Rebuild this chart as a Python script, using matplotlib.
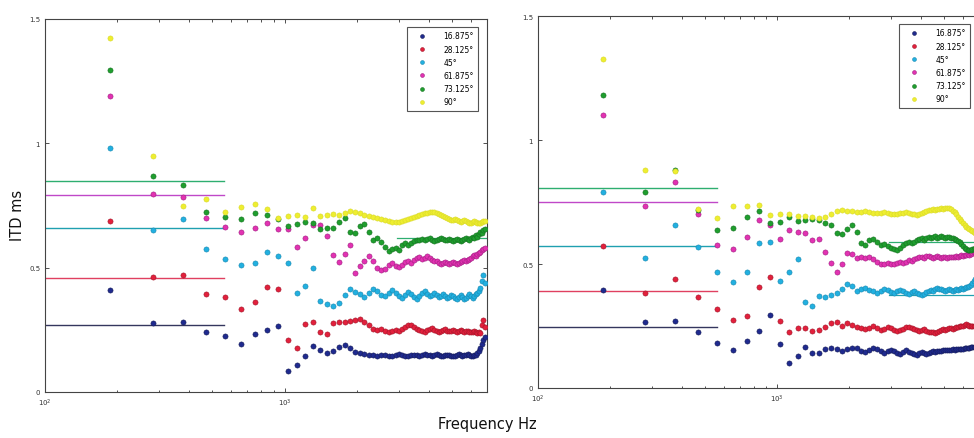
import matplotlib
matplotlib.use("Agg")
import matplotlib.pyplot as plt
import numpy as np
from matplotlib.ticker import LogLocator, NullFormatter, FixedLocator

# FFT bins 2..73 of 93.75 Hz
BIN_HZ = 93.75
bins = np.arange(2, 74)
freqs = BIN_HZ * bins

labels = ["16.875°", "28.125°", "45°", "61.875°", "73.125°", "90°"]
colors = ["#1f2a8f", "#e2203c", "#22b0e0", "#e232b2", "#1f9e2e", "#eeee30"]
edge_colors = ["#141a55", "#a01428", "#1888b0", "#a01e80", "#147020", "#d8d828"]
line_colors = ["#34365e", "#e04060", "#20a0b0", "#c048c8", "#2eae70"]

# left panel, ITD in ms per bin
L_az16 = [0.411, 0.276, 0.280, 0.240, 0.226, 0.193, 0.233, 0.250, 0.267, 0.085,
          0.110, 0.143, 0.183, 0.170, 0.155, 0.165, 0.180, 0.187, 0.175, 0.162,
          0.156, 0.152, 0.150, 0.148, 0.145, 0.148, 0.150, 0.146, 0.144, 0.148,
          0.152, 0.150, 0.146, 0.143, 0.147, 0.150, 0.148, 0.145, 0.149, 0.152,
          0.150, 0.147, 0.145, 0.148, 0.151, 0.149, 0.146, 0.144, 0.147, 0.150,
          0.148, 0.145, 0.143, 0.146, 0.149, 0.151, 0.148, 0.145, 0.147, 0.150,
          0.152, 0.149, 0.146, 0.144, 0.147, 0.150, 0.155, 0.165, 0.178, 0.195,
          0.210, 0.220]
L_az28 = [0.689, 0.464, 0.472, 0.393, 0.382, 0.334, 0.363, 0.424, 0.416, 0.210,
          0.178, 0.275, 0.280, 0.242, 0.233, 0.277, 0.280, 0.283, 0.286, 0.290,
          0.292, 0.283, 0.268, 0.255, 0.248, 0.252, 0.245, 0.240, 0.244, 0.250,
          0.247, 0.255, 0.262, 0.268, 0.270, 0.262, 0.255, 0.250, 0.246, 0.243,
          0.248, 0.252, 0.256, 0.250, 0.245, 0.242, 0.246, 0.249, 0.252, 0.247,
          0.244, 0.246, 0.249, 0.245, 0.242, 0.245, 0.248, 0.244, 0.241, 0.244,
          0.247, 0.243, 0.240, 0.243, 0.246, 0.242, 0.239, 0.242, 0.236, 0.270,
          0.290, 0.260]
L_az45 = [0.981, 0.653, 0.696, 0.575, 0.535, 0.512, 0.519, 0.562, 0.548, 0.517,
          0.398, 0.428, 0.497, 0.367, 0.354, 0.345, 0.358, 0.392, 0.414, 0.404,
          0.394, 0.383, 0.400, 0.416, 0.405, 0.392, 0.385, 0.398, 0.410, 0.400,
          0.388, 0.380, 0.390, 0.402, 0.395, 0.382, 0.376, 0.388, 0.400, 0.405,
          0.395, 0.385, 0.392, 0.398, 0.390, 0.382, 0.388, 0.394, 0.386, 0.378,
          0.384, 0.392, 0.386, 0.378, 0.374, 0.382, 0.390, 0.384, 0.376, 0.380,
          0.388, 0.394, 0.388, 0.380, 0.386, 0.395, 0.400, 0.405, 0.420, 0.445,
          0.470, 0.440]
L_az61 = [1.189, 0.796, 0.785, 0.698, 0.662, 0.642, 0.658, 0.680, 0.655, 0.655,
          0.582, 0.618, 0.673, 0.673, 0.629, 0.551, 0.521, 0.555, 0.592, 0.478,
          0.508, 0.528, 0.548, 0.525, 0.500, 0.492, 0.495, 0.510, 0.518, 0.508,
          0.502, 0.512, 0.522, 0.528, 0.520, 0.530, 0.538, 0.542, 0.535, 0.540,
          0.545, 0.538, 0.532, 0.528, 0.525, 0.520, 0.516, 0.520, 0.524, 0.520,
          0.515, 0.518, 0.522, 0.518, 0.514, 0.518, 0.522, 0.526, 0.530, 0.528,
          0.532, 0.536, 0.540, 0.545, 0.550, 0.548, 0.555, 0.560, 0.565, 0.570,
          0.575, 0.580]
L_az73 = [1.296, 0.867, 0.834, 0.722, 0.705, 0.695, 0.718, 0.710, 0.696, 0.669,
          0.675, 0.682, 0.680, 0.656, 0.658, 0.660, 0.682, 0.698, 0.645, 0.640,
          0.668, 0.675, 0.642, 0.612, 0.618, 0.605, 0.582, 0.568, 0.575, 0.578,
          0.570, 0.590, 0.598, 0.592, 0.600, 0.606, 0.610, 0.612, 0.615, 0.610,
          0.614, 0.618, 0.612, 0.608, 0.612, 0.616, 0.620, 0.615, 0.610, 0.612,
          0.616, 0.612, 0.608, 0.612, 0.616, 0.612, 0.606, 0.610, 0.615, 0.620,
          0.616, 0.612, 0.618, 0.625, 0.620, 0.630, 0.625, 0.636, 0.645, 0.640,
          0.650, 0.655]
L_az90 = [1.423, 0.950, 0.749, 0.776, 0.722, 0.743, 0.756, 0.736, 0.700, 0.709,
          0.712, 0.705, 0.739, 0.706, 0.710, 0.715, 0.712, 0.720, 0.726, 0.722,
          0.718, 0.712, 0.708, 0.702, 0.698, 0.694, 0.690, 0.686, 0.684, 0.682,
          0.684, 0.686, 0.690, 0.694, 0.698, 0.702, 0.706, 0.710, 0.714, 0.718,
          0.720, 0.722, 0.724, 0.722, 0.718, 0.714, 0.710, 0.706, 0.702, 0.698,
          0.695, 0.692, 0.690, 0.694, 0.690, 0.686, 0.684, 0.688, 0.692, 0.688,
          0.684, 0.680, 0.678, 0.682, 0.686, 0.684, 0.680, 0.678, 0.680, 0.684,
          0.686, 0.688]

# right panel
R_az16 = [0.395, 0.265, 0.270, 0.225, 0.181, 0.153, 0.188, 0.231, 0.295, 0.177,
          0.100, 0.128, 0.167, 0.141, 0.142, 0.157, 0.160, 0.159, 0.151, 0.156,
          0.163, 0.160, 0.150, 0.146, 0.152, 0.162, 0.156, 0.148, 0.143, 0.150,
          0.155, 0.148, 0.140, 0.138, 0.145, 0.152, 0.147, 0.140, 0.136, 0.135,
          0.140, 0.146, 0.142, 0.137, 0.140, 0.146, 0.150, 0.147, 0.148, 0.151,
          0.149, 0.152, 0.154, 0.152, 0.155, 0.153, 0.156, 0.155, 0.157, 0.156,
          0.158, 0.157, 0.159, 0.160, 0.161, 0.162, 0.163, 0.164, 0.165, 0.166,
          0.167, 0.168]
R_az28 = [0.574, 0.383, 0.440, 0.366, 0.319, 0.274, 0.289, 0.408, 0.449, 0.271,
          0.227, 0.240, 0.240, 0.231, 0.235, 0.244, 0.262, 0.266, 0.251, 0.262,
          0.254, 0.246, 0.240, 0.236, 0.242, 0.248, 0.240, 0.234, 0.238, 0.244,
          0.240, 0.234, 0.230, 0.232, 0.238, 0.244, 0.246, 0.240, 0.236, 0.232,
          0.230, 0.234, 0.236, 0.230, 0.226, 0.224, 0.226, 0.222, 0.224, 0.228,
          0.232, 0.236, 0.234, 0.236, 0.240, 0.242, 0.238, 0.242, 0.245, 0.244,
          0.248, 0.252, 0.250, 0.255, 0.258, 0.254, 0.250, 0.252, 0.248, 0.250,
          0.252, 0.254]
R_az45 = [0.789, 0.525, 0.657, 0.567, 0.466, 0.429, 0.469, 0.585, 0.590, 0.432,
          0.468, 0.522, 0.347, 0.329, 0.369, 0.365, 0.374, 0.385, 0.398, 0.418,
          0.411, 0.391, 0.398, 0.402, 0.396, 0.390, 0.385, 0.392, 0.398, 0.394,
          0.388, 0.384, 0.390, 0.394, 0.390, 0.384, 0.380, 0.386, 0.390, 0.384,
          0.378, 0.376, 0.380, 0.386, 0.392, 0.396, 0.392, 0.398, 0.402, 0.398,
          0.400, 0.396, 0.392, 0.396, 0.400, 0.396, 0.392, 0.395, 0.398, 0.396,
          0.400, 0.403, 0.400, 0.404, 0.408, 0.406, 0.410, 0.416, 0.424, 0.432,
          0.440, 0.445]
R_az61 = [1.102, 0.735, 0.829, 0.702, 0.578, 0.560, 0.609, 0.679, 0.657, 0.600,
          0.637, 0.630, 0.627, 0.598, 0.600, 0.550, 0.504, 0.469, 0.500, 0.544,
          0.540, 0.523, 0.527, 0.524, 0.528, 0.520, 0.508, 0.500, 0.502, 0.506,
          0.500, 0.498, 0.504, 0.508, 0.506, 0.510, 0.516, 0.514, 0.520, 0.524,
          0.527, 0.530, 0.526, 0.532, 0.534, 0.530, 0.526, 0.530, 0.532, 0.528,
          0.526, 0.530, 0.528, 0.524, 0.528, 0.530, 0.527, 0.530, 0.532, 0.530,
          0.533, 0.536, 0.534, 0.536, 0.538, 0.540, 0.538, 0.542, 0.545, 0.547,
          0.548, 0.550]
R_az73 = [1.181, 0.789, 0.879, 0.717, 0.638, 0.645, 0.690, 0.715, 0.665, 0.669,
          0.690, 0.673, 0.676, 0.682, 0.676, 0.667, 0.657, 0.626, 0.619, 0.642,
          0.656, 0.630, 0.583, 0.577, 0.598, 0.602, 0.590, 0.575, 0.580, 0.574,
          0.566, 0.562, 0.558, 0.565, 0.575, 0.584, 0.588, 0.586, 0.590, 0.596,
          0.600, 0.604, 0.598, 0.606, 0.610, 0.605, 0.610, 0.612, 0.606, 0.610,
          0.612, 0.608, 0.604, 0.610, 0.608, 0.604, 0.606, 0.600, 0.598, 0.594,
          0.590, 0.582, 0.574, 0.566, 0.560, 0.556, 0.555, 0.558, 0.560, 0.562,
          0.564, 0.566]
R_az90 = [1.327, 0.880, 0.875, 0.720, 0.686, 0.735, 0.735, 0.737, 0.697, 0.700,
          0.700, 0.692, 0.695, 0.690, 0.686, 0.690, 0.700, 0.712, 0.716, 0.714,
          0.712, 0.710, 0.708, 0.712, 0.710, 0.706, 0.704, 0.706, 0.708, 0.704,
          0.702, 0.700, 0.702, 0.704, 0.706, 0.708, 0.706, 0.702, 0.700, 0.698,
          0.700, 0.704, 0.708, 0.712, 0.716, 0.718, 0.720, 0.718, 0.720, 0.722,
          0.724, 0.722, 0.725, 0.727, 0.726, 0.722, 0.715, 0.708, 0.700, 0.690,
          0.680, 0.672, 0.665, 0.658, 0.650, 0.645, 0.640, 0.636, 0.632, 0.628,
          0.625, 0.622]

# low-frequency model lines (16.875 .. 73.125 deg), drawn 100 Hz to 560 Hz
L_model = [0.269, 0.458, 0.659, 0.792, 0.848]
R_model = [0.245, 0.390, 0.571, 0.752, 0.808]
MODEL_HZ = [100, 560]

# high-frequency lines: (series index, value), drawn 3 kHz to 7 kHz
L_hf = [(4, 0.618)]
R_hf = [(4, 0.587), (2, 0.375)]
HF_HZ = [2950, 7000]


def draw_panel(ax, series, model, hf):
    for i, lvl in enumerate(model):
        ax.plot(MODEL_HZ, [lvl, lvl], color=line_colors[i], lw=1.0, zorder=2)
    for i, lvl in hf:
        ax.plot(HF_HZ, [lvl, lvl], color=line_colors[i], lw=0.9, zorder=1)
    for vals, lab, c, ec in zip(series, labels, colors, edge_colors):
        ax.plot(freqs, vals, "o", ls="none", ms=3.7, mfc=c, mec=ec, mew=0.4,
                label=lab, zorder=3)

    ax.set_xscale("log")
    ax.set_xlim(100, 7000)
    ax.set_ylim(0, 1.5)
    ax.yaxis.set_major_locator(FixedLocator([0, 0.5, 1, 1.5]))
    ax.set_yticklabels(["0", "0.5", "1", "1.5"])
    ax.xaxis.set_major_locator(FixedLocator([100, 1000]))
    ax.set_xticklabels(["$10^2$", "$10^3$"])
    ax.xaxis.set_minor_locator(LogLocator(base=10, subs=np.arange(2, 10)))
    ax.xaxis.set_minor_formatter(NullFormatter())
    ax.tick_params(which="both", direction="in", top=True, right=True,
                   labelsize=5, colors="#333333", length=3, width=0.6)
    ax.tick_params(which="minor", length=1.8)
    for sp in ax.spines.values():
        sp.set_color("#444444")
        sp.set_linewidth(0.8)

    leg = ax.legend(loc="upper right", bbox_to_anchor=(0.98, 0.978),
                    fontsize=5.5, frameon=True, fancybox=False, framealpha=1,
                    edgecolor="#555555", handlelength=3.0, handletextpad=1.3,
                    labelspacing=0.55, borderpad=0.55, markerscale=0.75,
                    borderaxespad=0)
    leg.get_frame().set_linewidth(0.8)


fig = plt.figure(figsize=(9.74, 4.39), dpi=100)
ax_l = fig.add_axes([45 / 974, 1 - 393 / 439, 442 / 974, 373 / 439])
ax_r = fig.add_axes([538 / 974, 1 - 389 / 439, 441 / 974, 372 / 439])

draw_panel(ax_l, [L_az16, L_az28, L_az45, L_az61, L_az73, L_az90], L_model, L_hf)
draw_panel(ax_r, [R_az16, R_az28, R_az45, R_az61, R_az73, R_az90], R_model, R_hf)

fig.text(17 / 974, 1 - 215 / 439, "ITD ms", rotation=90, ha="center",
         va="center", fontsize=10.5, color="#111111")
fig.text(487 / 974, 1 - 425 / 439, "Frequency Hz", ha="center", va="center",
         fontsize=10.5, color="#111111")

fig.savefig("out.png", dpi=100)
